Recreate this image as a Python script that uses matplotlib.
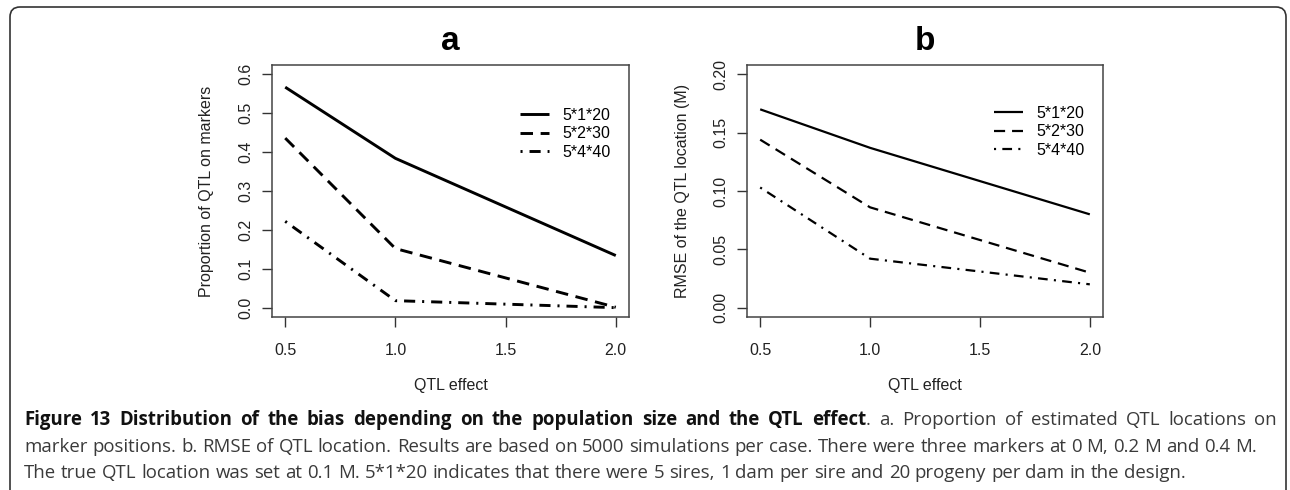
import matplotlib
matplotlib.use('Agg')
import matplotlib.pyplot as plt
from matplotlib.patches import FancyBboxPatch
from matplotlib.transforms import IdentityTransform

# values
qtl_effect = [0.5, 1.0, 2.0]
designs = ['5*1*20', '5*2*30', '5*4*40']

prop_5_1_20 = [0.567, 0.384, 0.134]
prop_5_2_30 = [0.436, 0.152, 0.001]
prop_5_4_40 = [0.222, 0.018, 0.000]

rmse_5_1_20 = [0.170, 0.137, 0.080]
rmse_5_2_30 = [0.144, 0.086, 0.030]
rmse_5_4_40 = [0.103, 0.042, 0.020]

prop_ticks = [0.0, 0.1, 0.2, 0.3, 0.4, 0.5, 0.6]
rmse_ticks = [0.00, 0.05, 0.10, 0.15, 0.20]
x_ticks = [0.5, 1.0, 1.5, 2.0]

W, H = 1290, 490
plt.rcParams['font.family'] = ['Liberation Sans', 'DejaVu Sans']
plt.rcParams['lines.scale_dashes'] = False

fig = plt.figure(figsize=(W / 100, H / 100), dpi=100)
fig.patch.set_facecolor('white')

FS = 11.5


def px_axes(left, top, right, bottom):
    return fig.add_axes([left / W, 1 - bottom / H, (right - left) / W, (bottom - top) / H])


def setup(ax, series, lw, styles, yticks, yfmt, ylab, title, xlab, legxy):
    for ys, lab, ls in zip(series, designs, styles):
        ax.plot(qtl_effect, ys, color='black', lw=lw, ls=ls, label=lab,
                solid_capstyle='butt', dash_capstyle='butt')
    span = yticks[-1] - yticks[0]
    ax.set_ylim(yticks[0] - 0.04 * span, yticks[-1] + 0.04 * span)
    ax.set_xlim(0.5 - 0.06, 2.0 + 0.06)
    ax.set_xticks(x_ticks)
    ax.set_xticklabels(['%.1f' % v for v in x_ticks])
    ax.set_yticks(yticks)
    ax.set_yticklabels([yfmt % v for v in yticks], rotation=90, va='center')
    ax.tick_params(direction='out', length=7.5, width=1.0, color='#333333',
                   labelsize=FS, labelcolor='#222222')
    ax.tick_params(axis='x', pad=11)
    ax.tick_params(axis='y', pad=6)
    for s in ax.spines.values():
        s.set_color('#444444')
        s.set_linewidth(1.1)
    bb = ax.get_position()
    cx = (bb.x0 + bb.x1) / 2
    cy = (bb.y0 + bb.y1) / 2
    fig.text(cx, 1 - 41 / H, title, ha='center', va='center', fontsize=24,
             fontweight='bold')
    fig.text(cx, 1 - 385 / H, xlab, ha='center', va='center', fontsize=FS,
             color='#222222')
    fig.text(ylab[1] / W, cy, ylab[0], rotation=90, ha='center', va='center',
             fontsize=FS, color='#222222')
    ax.legend(loc='upper left', bbox_to_anchor=legxy, frameon=False,
              fontsize=FS, handlelength=1.8, handletextpad=0.85,
              labelspacing=0.22, borderpad=0, borderaxespad=0)


ax_a = px_axes(272, 65, 629, 317)
setup(ax_a, [prop_5_1_20, prop_5_2_30, prop_5_4_40], 2.1,
      ['-', (0, (9, 5.5)), (0, (1.5, 5, 8, 5))], prop_ticks, '%.1f',
      ('Proportion of QTL on markers', 207), 'a', 'QTL effect', (0.695, 0.83))

ax_b = px_axes(747, 65, 1103, 317)
setup(ax_b, [rmse_5_1_20, rmse_5_2_30, rmse_5_4_40], 1.6,
      ['-', (0, (8, 5)), (0, (1.5, 4.5, 7, 4.5))], rmse_ticks, '%.2f',
      ('RMSE of the QTL location (M)', 682), 'b', 'QTL effect', (0.694, 0.838))

# rounded frame round the figure and caption
frame = FancyBboxPatch((10, -30), 1276, 490 - 7 + 30,
                       boxstyle='round,pad=0,rounding_size=10',
                       transform=IdentityTransform(), fill=False,
                       ec='#333333', lw=1.2)
fig.patches.append(frame)

# caption, drawn word by word so the first line can be justified
cap_font = ['Open Sans', 'DejaVu Sans']
cap_fs = 13.4
renderer = fig.canvas.get_renderer()


def words_of(runs):
    out = []
    for text, bold in runs:
        parts = text.split(' ')
        for i, p in enumerate(parts):
            if p == '':
                continue
            sp = (i > 0 or text.startswith(' ')) and len(out) > 0
            out.append((p, bold, sp))
    return out


def width_of(s, bold):
    t = fig.text(0, 0, s, fontsize=cap_fs, family=cap_font,
                 fontweight='bold' if bold else 'normal')
    w = t.get_window_extent(renderer).width
    t.remove()
    return w


space_w = width_of('n n', False) - width_of('nn', False)


def caption_line(runs, y_px, x0=24, x1=None):
    ws = words_of(runs)
    widths = [width_of(w, b) for w, b, _ in ws]
    nsp = sum(1 for _, _, sp in ws if sp)
    sp_w = space_w
    if x1 is not None and nsp:
        sp_w = (x1 - x0 - sum(widths)) / nsp
    x = x0
    for (w, b, sp), wd in zip(ws, widths):
        if sp:
            x += sp_w
        fig.text(x / W, 1 - y_px / H, w, fontsize=cap_fs, family=cap_font,
                 fontweight='bold' if b else 'normal', va='center',
                 color='#111111' if b else '#3a3a3a')
        x += wd


caption_line([('Figure 13 Distribution of the bias depending on the population size and the QTL effect', True),
              ('. a. Proportion of estimated QTL locations on', False)], 420, x1=1277)
caption_line([('marker positions. b. RMSE of QTL location. Results are based on 5000 simulations per case. '
               'There were three markers at 0 M, 0.2 M and 0.4 M.', False)], 447)
caption_line([('The true QTL location was set at 0.1 M. 5*1*20 indicates that there were 5 sires, '
               '1 dam per sire and 20 progeny per dam in the design.', False)], 473)

fig.savefig('out.png', dpi=100)
plt.close(fig)
